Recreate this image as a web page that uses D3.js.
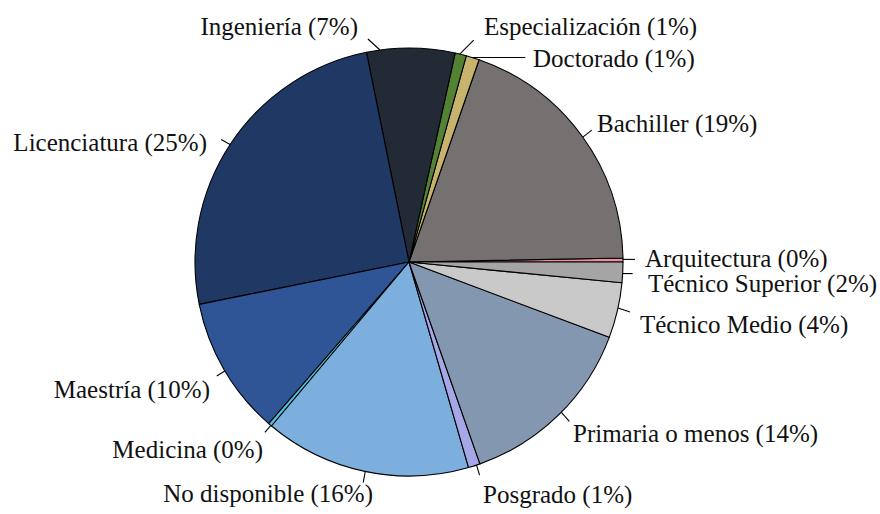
<!DOCTYPE html>
<html>
<head>
<meta charset="utf-8">
<script src="https://cdn.jsdelivr.net/npm/d3@7"></script>
<style>
  html, body { margin: 0; padding: 0; background: #ffffff; }
  svg { display: block; }
  text { font-family: "Liberation Serif", "Times New Roman", serif; font-size: 25px; fill: #111; }
</style>
</head>
<body>
<svg id="chart" width="880" height="514"></svg>
<script>
// ---- data (percent shares, order counter-clockwise from 3 o'clock) ----
const categories = ["Arquitectura", "Bachiller", "Doctorado", "Especialización", "Ingeniería",
  "Licenciatura", "Maestría", "Medicina", "No disponible", "Posgrado",
  "Primaria o menos", "Técnico Medio", "Técnico Superior"];
const values = [0.3, 19.4, 1.0, 0.85, 6.65, 25.0, 10.45, 0.28, 15.6, 0.89, 13.9, 4.18, 1.55];
const colors = ["#ee8fa0", "#767171", "#c7b36b", "#548235", "#222a35",
  "#203864", "#2f5597", "#4cc3d9", "#7cafdd", "#a5a7e6",
  "#8497b0", "#c9c9c9", "#a5a5a5"];

// ---- label layout: tick angle (deg, ccw from east), tick end offset, label offset from centre ----
const labelLayout = [
  { a: 0.7,   tdx: 12, tdy: 0,   lx: 236,  ly: 5,    anchor: "start" },
  { a: 35.7,  tdx: 9,  tdy: -7,  lx: 188,  ly: -130, anchor: "start" },
  { a: 72.8,  tdx: 53, tdy: 0,   lx: 124,  ly: -195, anchor: "start" },
  { a: 76.3,  tdx: 14, tdy: -14, lx: 75,   ly: -227, anchor: "start" },
  { a: 97.8,  tdx: -12,tdy: -11, lx: -51,  ly: -227, anchor: "end" },
  { a: 146.7, tdx: -9, tdy: -5,  lx: -202, ly: -111, anchor: "end" },
  { a: 210.6, tdx: -8, tdy: 5,   lx: -199, ly: 136,  anchor: "end" },
  { a: 229.8, tdx: -6, tdy: 7,   lx: -146, ly: 196,  anchor: "end" },
  { a: 258.2, tdx: -2, tdy: 11,  lx: -36,  ly: 240,  anchor: "end" },
  { a: 288.4, tdx: 3,  tdy: 10,  lx: 74,   ly: 241,  anchor: "start" },
  { a: 315.4, tdx: 8,  tdy: 9,   lx: 164,  ly: 180,  anchor: "start" },
  { a: 347.6, tdx: 12, tdy: 4,   lx: 231,  ly: 71,   anchor: "start" },
  { a: 356.9, tdx: 10, tdy: 0,   lx: 239,  ly: 30,   anchor: "start" }
];

const W = 880, H = 514;
const cx = 409, cy = 262, R = 214;
const svg = d3.select("#chart");
const g = svg.append("g").attr("transform", `translate(${cx},${cy})`);

const total = d3.sum(values);
const rows = categories.map((c, i) => ({ name: c, value: values[i], color: colors[i], lay: labelLayout[i] }));

// pie starting at 3 o'clock, going counter-clockwise
const pie = d3.pie().sort(null).value(d => d.value)
  .startAngle(Math.PI / 2).endAngle(Math.PI / 2 - 2 * Math.PI);
const arc = d3.arc().innerRadius(0).outerRadius(R);
const arcs = pie(rows);

g.selectAll("path.slice").data(arcs).enter().append("path")
  .attr("class", "slice")
  .attr("d", arc)
  .attr("fill", d => d.data.color)
  .attr("stroke", "#000")
  .attr("stroke-width", 1.1)
  .attr("stroke-linejoin", "round");

// angle scale: degrees (ccw from east) -> radians
const rad = d3.scaleLinear().domain([0, 360]).range([0, 2 * Math.PI]);
const pt = (deg, r) => [r * Math.cos(rad(deg)), -r * Math.sin(rad(deg))];
const fmt = v => Math.round(v / total * 100) + "%";

const lab = g.selectAll("g.lab").data(rows).enter().append("g").attr("class", "lab");
lab.append("line")
  .attr("x1", d => pt(d.lay.a, R)[0])
  .attr("y1", d => pt(d.lay.a, R)[1])
  .attr("x2", d => pt(d.lay.a, R)[0] + d.lay.tdx)
  .attr("y2", d => pt(d.lay.a, R)[1] + d.lay.tdy)
  .attr("stroke", "#000").attr("stroke-width", 1.1);
lab.append("text")
  .attr("x", d => d.lay.lx)
  .attr("y", d => d.lay.ly)
  .attr("text-anchor", d => d.lay.anchor)
  .text(d => `${d.name} (${fmt(d.value)})`);
</script>
</body>
</html>
